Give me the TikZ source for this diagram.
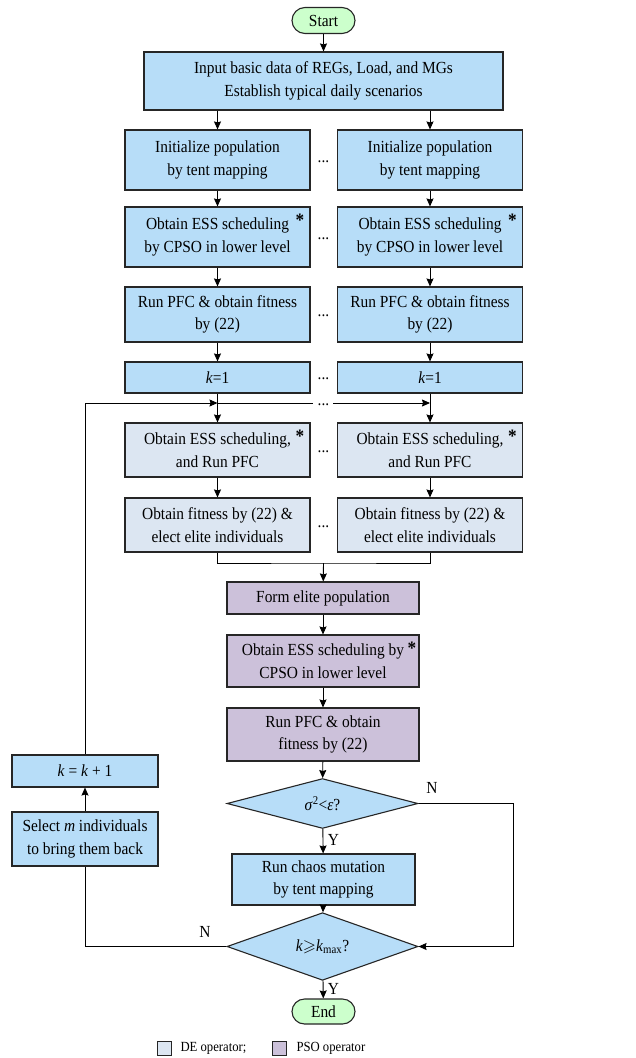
\documentclass[tikz,border=0pt]{standalone}
\usepackage{fontspec}
\usepackage{amssymb}
\setmainfont{Liberation Serif}[FakeStretch=0.91]
\usetikzlibrary{shapes.geometric,shapes.misc,arrows.meta}

\definecolor{opblue}{HTML}{B7DDF8}
\definecolor{opde}{HTML}{DCE6F2}
\definecolor{oppso}{HTML}{CCC1DA}
\definecolor{opgreen}{HTML}{CCFFCC}
\definecolor{edge}{HTML}{262626}

\tikzset{
	proc/.style={draw=edge,line width=1.1bp,fill=opblue,align=center,inner sep=0pt},
	deop/.style={proc,fill=opde},
	psoop/.style={proc,fill=oppso},
	term/.style={rounded rectangle,draw=edge,line width=1.1bp,fill=opgreen,minimum width=63bp,minimum height=26bp,inner sep=0pt},
	cond/.style={diamond,draw=edge,line width=1.1bp,fill=opblue,minimum width=191bp,minimum height=42bp,inner sep=0pt},
	arr/.style={line width=0.9bp,-{Stealth[length=8bp,width=7bp,inset=1bp]}},
	link/.style={line width=0.9bp},
	astk/.style={anchor=north east,inner sep=0pt,font=\bfseries\fontsize{19}{19}\selectfont},
	dots/.style={anchor=base,inner sep=0pt}
}

\begin{document}
\begin{tikzpicture}[x=1bp,y=-1bp,font=\fontsize{17}{22.5}\selectfont]
	\useasboundingbox (0,0) rectangle (636,1058);
	\node[term] (start) at (323.5,20.5) {Start};
	\node[proc,minimum width=359bp,minimum height=58bp] (input) at (323.5,81) {Input basic data of REGs, Load, and MGs\\Establish typical daily scenarios};
	\draw[arr] (start) -- (input);
	% the two sub-populations side by side
	\foreach \c/\x in {a/217.5,b/430} {
		\node[proc,minimum width=185bp,minimum height=60bp] (init\c) at (\x,160) {Initialize population\\by tent mapping};
		\node[proc,minimum width=185bp,minimum height=60bp] (ess\c) at (\x,237) {Obtain ESS scheduling\\by CPSO in lower level};
		\node[astk] (essast\c) at ([shift={(-6,7)}]ess\c.north east) {*};
		\node[proc,minimum width=185bp,minimum height=55bp] (pfc\c) at (\x,314.5) {Run PFC \& obtain fitness\\by (22)};
		\node[proc,minimum width=185bp,minimum height=31bp] (kone\c) at (\x,377.5) {\textit{k}=1};
		\node[deop,minimum width=185bp,minimum height=54bp] (deess\c) at (\x,450) {Obtain ESS scheduling,\\and Run PFC};
		\node[astk] (deast\c) at ([shift={(-6,7)}]deess\c.north east) {*};
		\node[deop,minimum width=185bp,minimum height=54bp] (defit\c) at (\x,525) {Obtain fitness by (22) \&\\elect elite individuals};
		\draw[arr] (input.south -| init\c) -- (init\c);
		\draw[arr] (init\c) -- (ess\c);
		\draw[arr] (ess\c) -- (pfc\c);
		\draw[arr] (pfc\c) -- (kone\c);
		\draw[arr] (kone\c) -- (deess\c);
		\draw[arr] (deess\c) -- (defit\c);
	}
	\foreach \y/\n in {160/1,237/2,314.5/3,377.5/4,450/5,525/6,403/7}
		\node[dots] (dots\n) at (323.5,\y+2) {...};
	% merge of the elite individuals
	\coordinate (merge) at (323.5,563);
	\draw[link] (defita.south) |- (merge) -| (defitb.south);
	\node[psoop,minimum width=192bp,minimum height=32bp] (form) at (323,598) {Form elite population};
	\node[psoop,minimum width=192bp,minimum height=52bp] (psoess) at (323,661) {Obtain ESS scheduling by\\CPSO in lower level};
	\node[astk] (psoast) at ([shift={(-3,7)}]psoess.north east) {*};
	\node[psoop,minimum width=192bp,minimum height=53bp] (psopfc) at (323,734.5) {Run PFC \& obtain\\fitness by (22)};
	\node[cond] (conv) at (322.5,803.5) {\textit{σ}\textsuperscript{2}<\textit{ε}?};
	\node[proc,minimum width=183bp,minimum height=51bp] (chaos) at (323.5,879.5) {Run chaos mutation\\by tent mapping};
	\node[cond] (stop) at (322.5,946.5) {\textit{k}$\geqslant$\textit{k}\textsubscript{max}?};
	\node[term,minimum height=25bp] (end) at (323.5,1011.5) {End};
	\draw[arr] (merge) -- (form);
	\draw[arr] (form) -- (psoess);
	\draw[arr] (psoess) -- (psopfc);
	\draw[arr] (psopfc) -- (conv);
	\draw[arr] (conv) -- node[right=1bp,pos=0.45] (yconv) {Y} (chaos);
	\draw[arr] (chaos) -- (stop);
	\draw[arr] (stop) -- node[right=1bp,pos=0.45] (ystop) {Y} (end);
	\coordinate (nright) at (513,803.5);
	\draw[arr] (conv.east) -- (nright) |- (stop.east);
	\node (nconv) at (432,788) {N};
	% going back for the next generation
	\node[proc,minimum width=146bp,minimum height=32bp] (kinc) at (85,771) {\textit{k} = \textit{k} + 1};
	\node[proc,minimum width=146bp,minimum height=54bp] (select) at (85,839) {Select \textit{m} individuals\\to bring them back};
	\coordinate (nleft) at (85,946.5);
	\draw[link] (stop.west) -- (nleft) -- (select.south);
	\node (nstop) at (205,932) {N};
	\draw[arr] (select) -- (kinc);
	\coordinate (back) at (85,403);
	\coordinate (gapl) at (313,403);
	\coordinate (gapr) at (333,403);
	\draw[link] (kinc.north) -- (back);
	\draw[arr] (back) -- (back -| konea);
	\draw[link] (back -| konea) -- (gapl);
	\draw[arr] (gapr) -- (gapr -| koneb);
	% legend
	\node[draw=edge,line width=0.9bp,fill=opde,minimum size=14bp,inner sep=0pt] (legde) at (164,1048) {};
	\node[anchor=west,font=\fontsize{14}{16}\selectfont] (legdetxt) at (177,1048) {DE operator;};
	\node[draw=edge,line width=0.9bp,fill=oppso,minimum size=14bp,inner sep=0pt] (legpso) at (279.5,1048) {};
	\node[anchor=west,font=\fontsize{14}{16}\selectfont] (legpsotxt) at (293,1048) {PSO operator};
\end{tikzpicture}
\end{document}
